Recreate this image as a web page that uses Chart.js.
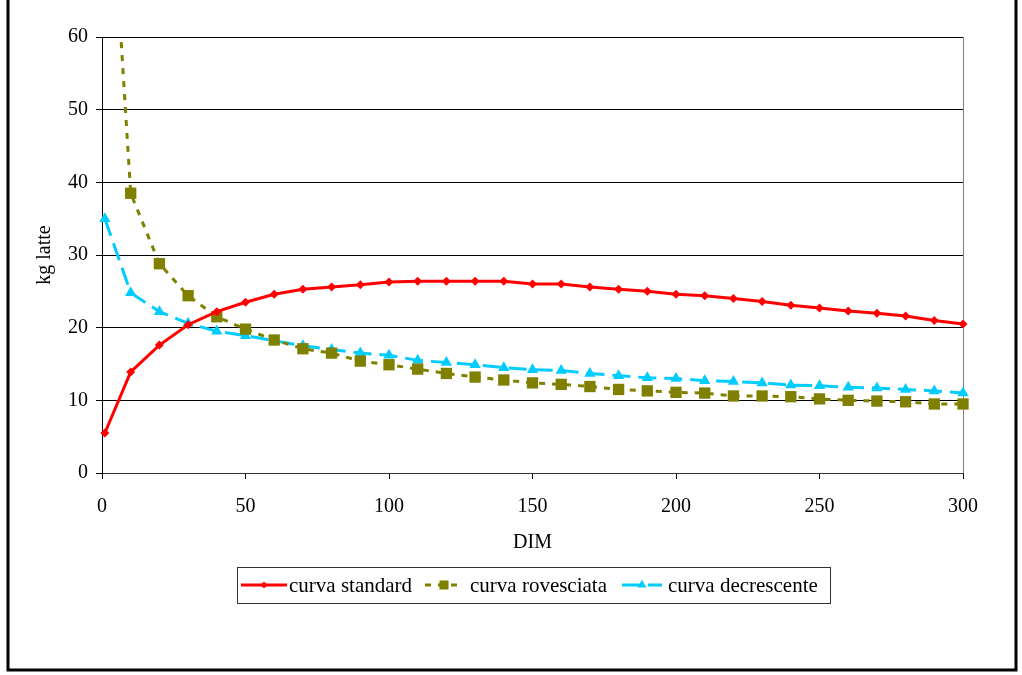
<!DOCTYPE html>
<html>
<head>
<meta charset="utf-8">
<script src="https://cdn.jsdelivr.net/npm/chart.js@4"></script>
<style>
  html, body { margin: 0; padding: 0; background: #fff; }
  #wrap { position: relative; width: 1022px; height: 675px; }
</style>
</head>
<body>
<div id="wrap"><canvas id="chart" width="1022" height="675"></canvas></div>
<script>
// giorni in mungitura
const dim = [1, 10, 20, 30, 40, 50, 60, 70, 80, 90, 100, 110, 120, 130, 140, 150,
             160, 170, 180, 190, 200, 210, 220, 230, 240, 250, 260, 270, 280, 290, 300];

const curvaStandard = [5.5, 13.9, 17.6, 20.4, 22.2, 23.5, 24.6, 25.3, 25.6, 25.9, 26.3, 26.4, 26.4, 26.4, 26.4, 26.0,
                       26.0, 25.6, 25.3, 25.0, 24.6, 24.4, 24.0, 23.6, 23.1, 22.7, 22.3, 22.0, 21.6, 21.0, 20.5];

const curvaRovesciata = [95, 38.5, 28.8, 24.4, 21.5, 19.8, 18.3, 17.1, 16.5, 15.4, 14.9, 14.3, 13.7, 13.2, 12.8, 12.4,
                         12.2, 11.9, 11.5, 11.3, 11.1, 11.0, 10.6, 10.6, 10.5, 10.2, 10.0, 9.9, 9.8, 9.5, 9.5];

const curvaDecrescente = [35.0, 24.8, 22.2, 20.6, 19.5, 18.9, 18.2, 17.5, 17.0, 16.5, 16.2, 15.5, 15.2, 14.9, 14.5, 14.2,
                          14.1, 13.7, 13.4, 13.1, 13.0, 12.7, 12.6, 12.4, 12.1, 12.0, 11.8, 11.7, 11.5, 11.3, 11.0];

const seriesLabels = ['curva standard', 'curva rovesciata', 'curva decrescente'];
const xTicks = [0, 50, 100, 150, 200, 250, 300];
const yTicks = [0, 10, 20, 30, 40, 50, 60];

const FONT = '"Liberation Serif", "Times New Roman", serif';

const toPoints = vals => dim.map((d, i) => ({ x: d, y: vals[i] }));

const styles = [
  { color: '#ff0000', dash: [], width: 3, point: 'rectRot', radius: 4.5 },
  { color: '#808000', dash: [6, 7], width: 3, point: 'rect', radius: 8 },
  { color: '#00ccff', dash: [18, 8], width: 3, point: 'triangle', radius: 6.5 }
];

const datasets = [curvaStandard, curvaRovesciata, curvaDecrescente].map((vals, i) => ({
  label: seriesLabels[i],
  data: toPoints(vals),
  borderColor: styles[i].color,
  backgroundColor: styles[i].color,
  borderWidth: styles[i].width,
  borderDash: styles[i].dash,
  pointStyle: styles[i].point,
  pointRadius: styles[i].radius,
  pointBorderWidth: 0,
  pointBackgroundColor: styles[i].color,
  showLine: true,
  tension: 0,
  clip: { left: 12, right: 12, top: 0, bottom: 12 }
}));

// legend positions (sample start, sample end, text start)
const legendItems = [
  { x0: 241, x1: 287, tx: 289 },
  { x0: 425, x1: 463, tx: 470 },
  { x0: 622, x1: 662, tx: 668 }
];

const decor = {
  id: 'decor',
  beforeDatasetsDraw(chart) {
    const { ctx, chartArea: a } = chart;
    ctx.save();
    ctx.strokeStyle = '#808080';
    ctx.lineWidth = 1;
    ctx.beginPath();
    ctx.moveTo(a.right + 0.5, a.top);
    ctx.lineTo(a.right + 0.5, a.bottom);
    ctx.stroke();
    ctx.restore();
  },
  afterDraw(chart) {
    const ctx = chart.ctx;
    ctx.save();
    // outer frame
    ctx.strokeStyle = '#000';
    ctx.lineWidth = 3;
    ctx.beginPath();
    ctx.moveTo(8, 0);
    ctx.lineTo(8, 670);
    ctx.lineTo(1016, 670);
    ctx.lineTo(1016, 0);
    ctx.stroke();

    // legend box
    ctx.lineWidth = 1;
    ctx.strokeStyle = '#333';
    ctx.strokeRect(237.5, 567.5, 593, 36);

    const ly = 585;
    ctx.font = '21px ' + FONT;
    ctx.textBaseline = 'middle';
    ctx.textAlign = 'left';
    legendItems.forEach((it, i) => {
      const s = styles[i];
      ctx.save();
      ctx.strokeStyle = s.color;
      ctx.lineWidth = s.width;
      ctx.setLineDash(s.dash);
      ctx.beginPath();
      ctx.moveTo(it.x0, ly);
      ctx.lineTo(it.x1, ly);
      ctx.stroke();
      ctx.setLineDash([]);
      ctx.fillStyle = s.color;
      Chart.helpers.drawPoint(ctx, { pointStyle: s.point, radius: s.radius * 0.8, rotation: 0, borderWidth: 0 },
        (it.x0 + it.x1) / 2, ly);
      ctx.restore();
      ctx.fillStyle = '#000';
      ctx.fillText(chart.data.datasets[i].label, it.tx, ly + 1);
    });
    ctx.restore();
  }
};

new Chart(document.getElementById('chart'), {
  type: 'scatter',
  data: { datasets: datasets },
  options: {
    responsive: false,
    animation: false,
    devicePixelRatio: 1,
    layout: { padding: { left: 0, top: 37, right: 59, bottom: 112 } },
    plugins: {
      legend: { display: false },
      tooltip: { enabled: false }
    },
    scales: {
      x: {
        type: 'linear',
        min: 0,
        max: 300,
        afterFit: s => { s.height = 90; },
        afterBuildTicks: s => { s.ticks = xTicks.map(v => ({ value: v })); },
        grid: { drawOnChartArea: false, drawTicks: true, tickLength: 6, color: '#000' },
        border: { color: '#333', width: 1 },
        ticks: { color: '#000', padding: 16, maxRotation: 0, font: { family: FONT, size: 20 } },
        title: { display: true, text: 'DIM', color: '#000', padding: { top: 0, bottom: 8 },
                 font: { family: FONT, size: 20 } }
      },
      y: {
        min: 0,
        max: 60,
        afterFit: s => { s.width = 102; },
        afterBuildTicks: s => { s.ticks = yTicks.map(v => ({ value: v })); },
        grid: { color: '#000', lineWidth: 1, tickLength: 6 },
        border: { color: '#000', width: 1 },
        ticks: { color: '#000', padding: 8, font: { family: FONT, size: 20 } },
        title: { display: true, text: 'kg latte', color: '#000', padding: { top: 33, bottom: 0 },
                 font: { family: FONT, size: 20 } }
      }
    }
  },
  plugins: [decor]
});
</script>
</body>
</html>
